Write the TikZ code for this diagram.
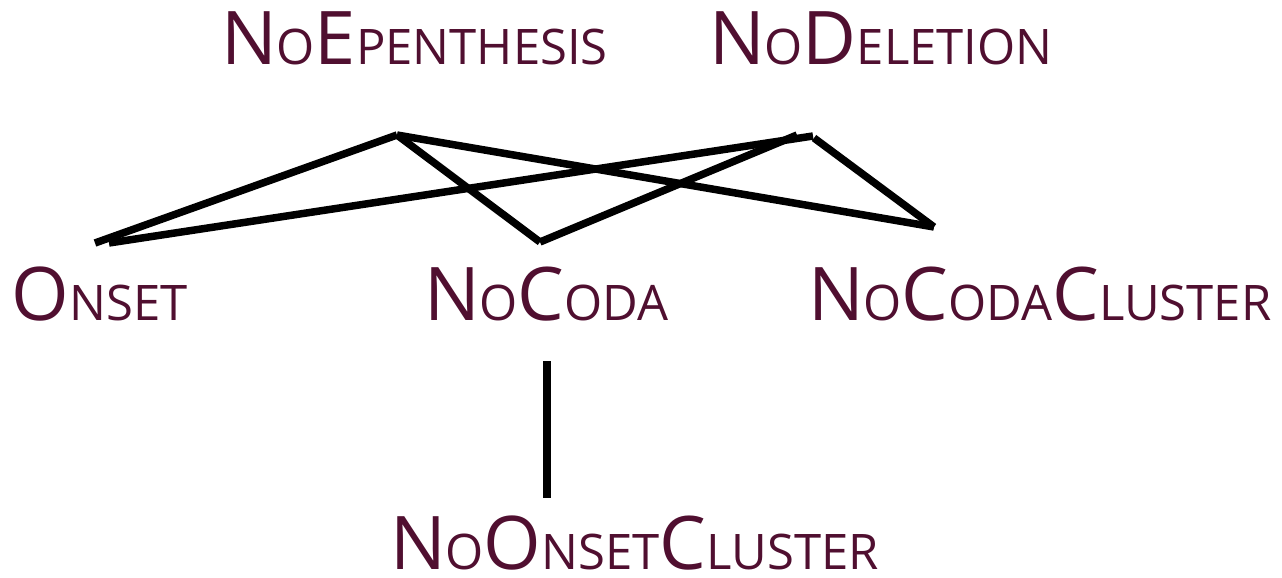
\documentclass[tikz,border=0pt]{standalone}
\usepackage{fontspec}
\setmainfont{Open Sans}
\definecolor{maroon}{RGB}{80,15,48}
\newcommand\bigc[1]{{\fontsize{74}{80}\selectfont #1}}
\newcommand\smc[1]{{\fontsize{49}{55}\selectfont #1}}
\begin{document}
\begin{tikzpicture}[x=1pt,y=-1pt,
  lbl/.style={anchor=base west,inner sep=0pt,outer sep=0pt,text=maroon},
  edge/.style={line width=7.5pt,black}]
\useasboundingbox (0,0) rectangle (1282,578);
\node[lbl] (noep) at (221,65) {\bigc{N}\smc{O}\bigc{E}\smc{PENTHESIS}};
\node[lbl] (nodel) at (709,65) {\bigc{N}\smc{O}\bigc{D}\smc{ELETION}};
\node[lbl] (onset) at (12,320) {\bigc{O}\smc{NSET}};
\node[lbl] (nocoda) at (424,320) {\bigc{N}\smc{O}\bigc{C}\smc{ODA}};
\node[lbl] (nocc) at (808,320) {\bigc{N}\smc{O}\bigc{C}\smc{ODA}\bigc{C}\smc{LUSTER}};
\node[lbl] (nooc) at (390,569) {\bigc{N}\smc{O}\bigc{O}\smc{NSET}\bigc{C}\smc{LUSTER}};
% connection points
\coordinate (ep) at (397,135);
\coordinate (dl1) at (813,136);
\coordinate (dl2) at (797,135);
\coordinate (dl3) at (814,138);
\coordinate (on1) at (95,243);
\coordinate (on2) at (109,243);
\coordinate (nc) at (540,242);
\coordinate (ncc) at (934,227);
\coordinate (ncb) at (547,361);
\coordinate (noct) at (547,498);
\draw[edge] (ep) -- (on1);
\draw[edge] (ep) -- (nc);
\draw[edge] (ep) -- (ncc);
\draw[edge] (dl1) -- (on2);
\draw[edge] (dl2) -- (nc);
\draw[edge] (dl3) -- (ncc);
\draw[edge] (ncb) -- (noct);
\end{tikzpicture}
\end{document}
